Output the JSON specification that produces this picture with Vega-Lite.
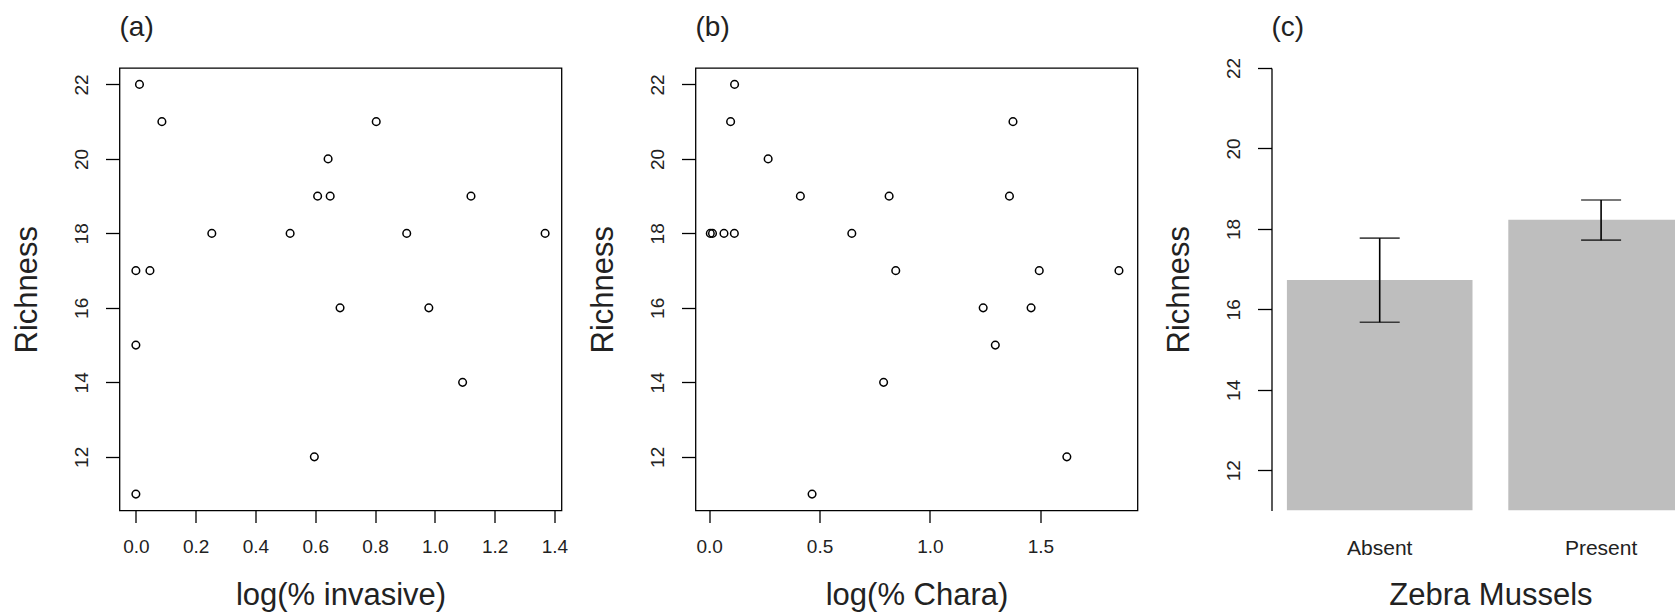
{
  "$schema": "https://vega.github.io/schema/vega-lite/v6.json",
  "padding": {"left": 10.5, "top": 13, "right": 0, "bottom": 0},
  "bounds": "flush",
  "spacing": 134,
  "datasets": {
    "invasive": [
      {"log_invasive": 0.012, "richness": 22},
      {"log_invasive": 0.087, "richness": 21},
      {"log_invasive": 0.0, "richness": 17},
      {"log_invasive": 0.047, "richness": 17},
      {"log_invasive": 0.0, "richness": 15},
      {"log_invasive": 0.0, "richness": 11},
      {"log_invasive": 0.254, "richness": 18},
      {"log_invasive": 0.516, "richness": 18},
      {"log_invasive": 0.608, "richness": 19},
      {"log_invasive": 0.643, "richness": 20},
      {"log_invasive": 0.65, "richness": 19},
      {"log_invasive": 0.683, "richness": 16},
      {"log_invasive": 0.597, "richness": 12},
      {"log_invasive": 0.804, "richness": 21},
      {"log_invasive": 0.906, "richness": 18},
      {"log_invasive": 0.98, "richness": 16},
      {"log_invasive": 1.093, "richness": 14},
      {"log_invasive": 1.121, "richness": 19},
      {"log_invasive": 1.369, "richness": 18}
    ],
    "chara": [
      {"log_chara": 0.115, "richness": 22},
      {"log_chara": 0.097, "richness": 21},
      {"log_chara": 0.267, "richness": 20},
      {"log_chara": 0.413, "richness": 19},
      {"log_chara": 0.815, "richness": 19},
      {"log_chara": 1.36, "richness": 19},
      {"log_chara": 1.376, "richness": 21},
      {"log_chara": 0.005, "richness": 18},
      {"log_chara": 0.015, "richness": 18},
      {"log_chara": 0.067, "richness": 18},
      {"log_chara": 0.114, "richness": 18},
      {"log_chara": 0.646, "richness": 18},
      {"log_chara": 0.845, "richness": 17},
      {"log_chara": 1.495, "richness": 17},
      {"log_chara": 1.856, "richness": 17},
      {"log_chara": 1.241, "richness": 16},
      {"log_chara": 1.458, "richness": 16},
      {"log_chara": 1.296, "richness": 15},
      {"log_chara": 0.79, "richness": 14},
      {"log_chara": 1.62, "richness": 12},
      {"log_chara": 0.466, "richness": 11}
    ],
    "mussels": [
      {"zebra": "Absent", "mean": 16.73, "lo": 15.68, "hi": 17.77},
      {"zebra": "Present", "mean": 18.23, "lo": 17.72, "hi": 18.72}
    ]
  },
  "config": {
    "font": "Liberation Sans",
    "view": {"stroke": "black", "strokeWidth": 1.3},
    "axis": {
      "domain": false, "grid": false,
      "ticks": true, "tickColor": "black", "tickWidth": 1.3, "tickSize": 13,
      "labelFont": "Liberation Sans", "labelFontSize": 19, "labelColor": "#222",
      "labelFlush": false, "labelOverlap": false, "labelPadding": 14,
      "titleFont": "Liberation Sans", "titleFontSize": 31, "titleFontWeight": "normal", "titleColor": "#222"
    },
    "axisY": {"labelAngle": -90, "tickSize": 14, "labelPadding": 14, "titlePadding": 29},
    "axisX": {"tickSize": 12, "labelPadding": 15, "titlePadding": 24},
    "title": {"font": "Liberation Sans", "fontSize": 28, "fontWeight": "normal", "anchor": "start", "frame": "group", "color": "#222", "offset": 26}
  },
  "hconcat": [
    {
      "width": 442, "height": 442.5,
      "title": "(a)",
      "data": {"name": "invasive"},
      "mark": {"type": "point", "shape": "circle", "filled": false, "color": "black", "size": 58, "strokeWidth": 1.5, "opacity": 1},
      "encoding": {
        "x": {"field": "log_invasive", "type": "quantitative",
              "scale": {"domain": [-0.0548, 1.4238], "nice": false, "zero": false},
              "axis": {"values": [0, 0.2, 0.4, 0.6, 0.8, 1.0, 1.2, 1.4], "format": ".1f", "title": "log(% invasive)"}},
        "y": {"field": "richness", "type": "quantitative",
              "scale": {"domain": [10.56, 22.44], "nice": false, "zero": false},
              "axis": {"values": [12, 14, 16, 18, 20, 22], "format": "d", "title": "Richness"}}
      }
    },
    {
      "width": 442, "height": 442.5,
      "title": "(b)",
      "data": {"name": "chara"},
      "mark": {"type": "point", "shape": "circle", "filled": false, "color": "black", "size": 58, "strokeWidth": 1.5, "opacity": 1},
      "encoding": {
        "x": {"field": "log_chara", "type": "quantitative",
              "scale": {"domain": [-0.062, 1.94], "nice": false, "zero": false},
              "axis": {"values": [0, 0.5, 1.0, 1.5], "format": ".1f", "title": "log(% Chara)"}},
        "y": {"field": "richness", "type": "quantitative",
              "scale": {"domain": [10.56, 22.44], "nice": false, "zero": false},
              "axis": {"values": [12, 14, 16, 18, 20, 22], "format": "d", "title": "Richness"}}
      }
    },
    {
      "width": 405, "height": 442.5,
      "title": {"text": "(c)", "offset": 15},
      "view": {"stroke": null},
      "data": {"name": "mussels"},
      "encoding": {
        "x": {"field": "zebra", "type": "nominal", "sort": null,
              "scale": {"range": [0, 437.8], "paddingInner": 0.1617, "paddingOuter": 0.0696},
              "axis": {"title": "Zebra Mussels", "labelAngle": 0, "ticks": false, "tickSize": 0, "domain": false, "labelFontSize": 21, "labelPadding": 27, "titlePadding": 22}}
      },
      "layer": [
        {
          "mark": {"type": "bar", "color": "#bebebe", "clip": true},
          "encoding": {
            "y": {"field": "mean", "type": "quantitative",
                  "scale": {"domain": [11, 22], "nice": false, "zero": false},
                  "axis": {"values": [12, 14, 16, 18, 20, 22], "format": "d", "title": "Richness", "domain": true, "domainColor": "black", "domainWidth": 1.3}},
            "y2": {"datum": 11}
          }
        },
        {
          "mark": {"type": "rule", "color": "black", "strokeWidth": 1.6},
          "encoding": {
            "y": {"field": "lo", "type": "quantitative"},
            "y2": {"field": "hi"}
          }
        },
        {
          "mark": {"type": "tick", "color": "black", "thickness": 1.6, "size": 40, "orient": "horizontal"},
          "encoding": {"y": {"field": "lo", "type": "quantitative"}}
        },
        {
          "mark": {"type": "tick", "color": "black", "thickness": 1.6, "size": 40, "orient": "horizontal"},
          "encoding": {"y": {"field": "hi", "type": "quantitative"}}
        }
      ]
    }
  ]
}
